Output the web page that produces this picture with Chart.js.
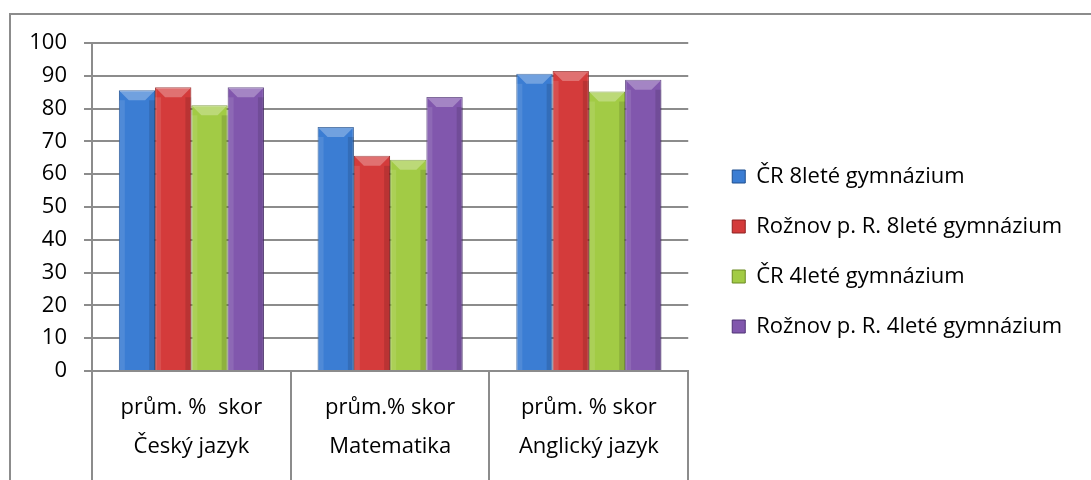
<!DOCTYPE html>
<html>
<head>
<meta charset="utf-8">
<script src="https://cdn.jsdelivr.net/npm/chart.js@4.4.1/dist/chart.umd.min.js"></script>
<style>
  html, body { margin: 0; padding: 0; background: #fff; }
  #wrap { position: relative; width: 1091px; height: 480px; overflow: hidden; }
  #frame { position: absolute; left: 9px; top: 13px; width: 1200px; height: 600px; border: 2px solid #8c8c8c; box-sizing: border-box; }
  canvas { position: absolute; left: 0; top: 0; }
</style>
</head>
<body>
<div id="wrap">
  <div id="frame"></div>
  <canvas id="chart" width="1091" height="480"></canvas>
</div>
<script>
const subjects = ["Český jazyk", "Matematika", "Anglický jazyk"];
const measures = ["prům. %  skor", "prům.% skor", "prům. % skor"];
const seriesNames = [
  "ČR 8leté gymnázium",
  "Rožnov p. R. 8leté gymnázium",
  "ČR 4leté gymnázium",
  "Rožnov p. R. 4leté gymnázium",
];
const cr8 = [85.6, 74.4, 90.6];
const roznov8 = [86.5, 65.6, 91.5];
const cr4 = [81.0, 64.4, 85.2];
const roznov4 = [86.5, 83.5, 88.8];
const yTicks = { min: 0, max: 100, step: 10 };

const colors = ["#3b7dd3", "#d43b3b", "#a2cb45", "#8157ad"];
const edges = ["#1f4f8f", "#8f2020", "#6a8a22", "#4f3275"];

const fontFamily = "'Open Sans', sans-serif";
const fontSize = 22;

// light bevel on top of each bar, like the office 3d preset
const bevelPlugin = {
  id: "bevel",
  afterDatasetsDraw(chart) {
    const ctx = chart.ctx;
    chart.data.datasets.forEach((ds, i) => {
      const meta = chart.getDatasetMeta(i);
      meta.data.forEach((bar) => {
        const { x, y, base, width } = bar.getProps(["x", "y", "base", "width"], true);
        const l = x - width / 2, r = x + width / 2, b = Math.min(10, width / 3);
        ctx.save();
        ctx.fillStyle = "rgba(255,255,255,0.28)";
        ctx.beginPath();
        ctx.moveTo(l, y); ctx.lineTo(r, y); ctx.lineTo(r - b, y + b); ctx.lineTo(l + b, y + b);
        ctx.closePath(); ctx.fill();
        ctx.fillStyle = "rgba(255,255,255,0.10)";
        ctx.fillRect(l, y + b, b * 0.6, base - y - b);
        ctx.fillStyle = "rgba(0,0,0,0.12)";
        ctx.fillRect(r - b * 0.6, y + b, b * 0.6, base - y - b);
        ctx.restore();
      });
    });
  },
};

// leave a wider gap between the plot and the legend
const legendGap = {
  id: "legendGap",
  afterLayout(chart) {
    if (!chart.legend) return;
    chart.legend.left += 16;
    chart.legend.right += 16;
  },
};

function drawChart() {
  const datasets = [cr8, roznov8, cr4, roznov4].map((values, i) => ({
    label: seriesNames[i],
    data: values,
    backgroundColor: colors[i],
    borderColor: edges[i],
    borderWidth: 1,
    categoryPercentage: 0.73,
    barPercentage: 1.0,
  }));

  new Chart(document.getElementById("chart"), {
    type: "bar",
    data: {
      labels: measures.map((m, i) => [m, subjects[i]]),
      datasets,
    },
    plugins: [bevelPlugin, legendGap],
    options: {
      responsive: false,
      animation: false,
      layout: { padding: { left: 20, right: 35, top: 43, bottom: 20 } },
      plugins: {
        tooltip: { enabled: false },
        legend: {
          position: "right",
          align: "center",
          maxWidth: 420,
          labels: {
            color: "#000",
            boxWidth: 13,
            boxHeight: 13,
            padding: 28,
            font: { family: fontFamily, size: fontSize },
          },
        },
      },
      scales: {
        x: {
          offset: true,
          border: { color: "#8c8c8c", width: 2 },
          grid: {
            offset: true,
            drawOnChartArea: false,
            drawTicks: true,
            tickLength: 110,
            color: "#8c8c8c",
            lineWidth: 2,
          },
          ticks: {
            color: "#000",
            padding: -93,
            maxRotation: 0,
            font: { family: fontFamily, size: fontSize, lineHeight: 1.78 },
          },
          afterFit(s) { s.height = 89; },
        },
        y: {
          min: yTicks.min,
          max: yTicks.max,
          border: { color: "#8c8c8c", width: 2 },
          grid: { color: "#8c8c8c", lineWidth: 2, tickLength: 8 },
          ticks: {
            stepSize: yTicks.step,
            color: "#000",
            padding: 17,
            font: { family: fontFamily, size: fontSize },
          },
          afterFit(s) { s.width = 72; },
        },
      },
    },
  });
}

document.fonts.load(fontSize + "px 'Open Sans'").then(drawChart, drawChart);
</script>
</body>
</html>
